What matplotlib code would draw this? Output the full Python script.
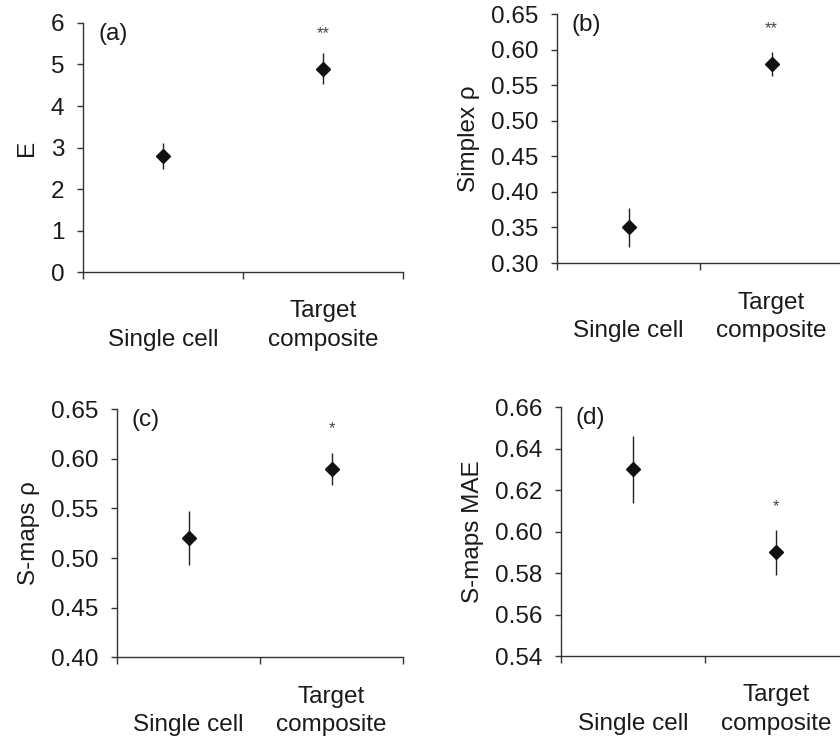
import numpy as np
import matplotlib
matplotlib.use('Agg')
import matplotlib.pyplot as plt

plt.rcParams['font.family'] = ['Liberation Sans', 'DejaVu Sans']

# data
groups = ['\nSingle cell', 'Target\ncomposite']

E_mean = [2.8, 4.9]
E_err = [0.32, 0.38]

simplex_mean = [0.35, 0.58]
simplex_err = [0.027, 0.017]

smaps_rho_mean = [0.52, 0.59]
smaps_rho_err = [0.027, 0.016]

smaps_mae_mean = [0.63, 0.59]
smaps_mae_err = [0.016, 0.011]

# significance stars (group index, y position, label)
E_sig = (1, 5.75, '**')
simplex_sig = (1, 0.630, '**')
smaps_rho_sig = (1, 0.630, '*')
smaps_mae_sig = (1, 0.612, '*')

panels = [
    # tag, ylabel, means, errs, sig, ylim, yticks, fmt, axes rect, ylabel x
    ('(a)', 'E', E_mean, E_err, E_sig, (0, 6), np.arange(0, 7, 1), '%d',
     [0.0988, 0.6309, 0.381, 0.3379], -0.142),
    ('(b)', 'Simplex ρ', simplex_mean, simplex_err, simplex_sig, (0.30, 0.65),
     np.arange(0.30, 0.651, 0.05), '%.2f', [0.6631, 0.6431, 0.3405, 0.3379], -0.268),
    ('(c)', 'S-maps ρ', smaps_rho_mean, smaps_rho_err, smaps_rho_sig, (0.40, 0.65),
     np.arange(0.40, 0.651, 0.05), '%.2f', [0.1393, 0.1081, 0.3405, 0.3369], -0.268),
    ('(d)', 'S-maps MAE', smaps_mae_mean, smaps_mae_err, smaps_mae_sig, (0.54, 0.66),
     np.arange(0.54, 0.661, 0.02), '%.2f', [0.6679, 0.1099, 0.3417, 0.3375], -0.27),
]

fig = plt.figure(figsize=(8.4, 7.37), dpi=100)
x = np.arange(len(groups))
text_col = '#1a1a1a'
axis_col = '#333333'
fs = 17.5

for tag, ylab, means, errs, sig, ylim, yticks, fmt, rect, ylx in panels:
    ax = fig.add_axes(rect)
    ax.errorbar(x, means, yerr=errs, fmt='D', color='#111111', ecolor='#222222',
                elinewidth=1.0, markersize=7, capsize=0)
    ax.set_xlim(-0.5, 1.5)
    ax.set_ylim(*ylim)
    ax.set_yticks(yticks)
    ax.set_yticklabels([fmt % v for v in yticks])
    # boundaries as tick marks, group names as unmarked minor ticks
    ax.set_xticks([-0.5, 0.5, 1.5])
    ax.set_xticklabels([])
    ax.set_xticks(x, minor=True)
    ax.set_xticklabels(groups, minor=True, linespacing=1.38)
    ax.tick_params(axis='x', which='major', direction='out', length=5, width=1, color=axis_col)
    ax.tick_params(axis='x', which='minor', length=0, pad=20.5, labelsize=fs, labelcolor=text_col)
    ax.tick_params(axis='y', direction='out', length=4.5, width=1, color=axis_col,
                   pad=9, labelsize=fs, labelcolor=text_col)
    for s in ['top', 'right']:
        ax.spines[s].set_visible(False)
    for s in ['left', 'bottom']:
        ax.spines[s].set_color(axis_col)
        ax.spines[s].set_linewidth(1.0)
    ax.set_ylabel(ylab, fontsize=fs, color=text_col)
    ax.yaxis.set_label_coords(ylx, 0.5)
    ax.text(0.05, 1.0, tag, transform=ax.transAxes, ha='left', va='top',
            fontsize=fs, color=text_col)
    gi, gy, star = sig
    ax.text(x[gi], gy, star, ha='center', va='center', fontsize=12, color='#444444')

fig.savefig('out.png', dpi=100)
